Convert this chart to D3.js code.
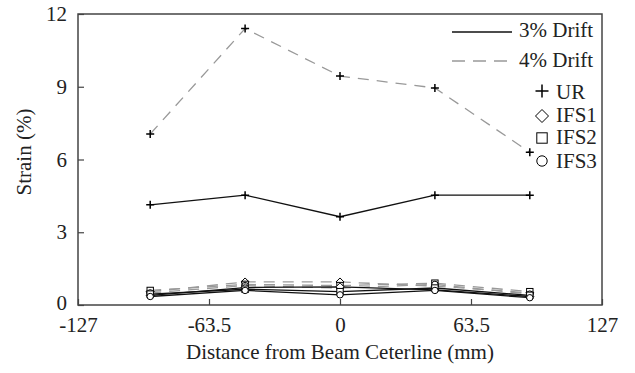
<!DOCTYPE html>
<html>
<head>
<meta charset="utf-8">
<script src="https://cdn.jsdelivr.net/npm/d3@7"></script>
</head>
<body style="margin:0">
<svg id="fig" width="635" height="373" font-family="Liberation Serif"></svg>
<script>
// Gauge positions across the beam (mm)
const positions = [-92, -46, 0, 46, 92];

// Strain (%) per specimen at each drift level
const ur3   = [4.13, 4.53, 3.64, 4.53, 4.53];
const ur4   = [7.05, 11.4, 9.44, 8.95, 6.3];
const ifs1_3 = [0.40, 0.72, 0.75, 0.62, 0.35];
const ifs1_4 = [0.55, 0.95, 0.95, 0.78, 0.50];
const ifs2_3 = [0.45, 0.65, 0.55, 0.70, 0.40];
const ifs2_4 = [0.60, 0.85, 0.80, 0.90, 0.55];
const ifs3_3 = [0.35, 0.60, 0.42, 0.60, 0.30];
const ifs3_4 = [0.50, 0.80, 0.70, 0.85, 0.45];

const xTicks = [-127, -63.5, 0, 63.5, 127];
const yTicks = [0, 3, 6, 9, 12];

const series = [
  { name: "UR",   drift: 4, values: ur4,    marker: "plus" },
  { name: "IFS1", drift: 4, values: ifs1_4, marker: "diamond" },
  { name: "IFS2", drift: 4, values: ifs2_4, marker: "square" },
  { name: "IFS3", drift: 4, values: ifs3_4, marker: "circle" },
  { name: "UR",   drift: 3, values: ur3,    marker: "plus" },
  { name: "IFS1", drift: 3, values: ifs1_3, marker: "diamond" },
  { name: "IFS2", drift: 3, values: ifs2_3, marker: "square" },
  { name: "IFS3", drift: 3, values: ifs3_3, marker: "circle" }
];

const serif = "Liberation Serif";
const ink = "#222";
const fs = 21;
const margin = { left: 78, right: 33, top: 14, bottom: 68 };
const W = 635, H = 373;
const svg = d3.select("#fig");
const x = d3.scaleLinear().domain([-127, 127]).range([margin.left, W - margin.right]);
const y = d3.scaleLinear().domain([0, 12]).range([H - margin.bottom, margin.top]);

const axisColor = "#444";

// Frame
svg.append("rect")
  .attr("x", x(-127)).attr("y", y(12))
  .attr("width", x(127) - x(-127)).attr("height", y(0) - y(12))
  .attr("fill", "none").attr("stroke", axisColor).attr("stroke-width", 1.5);

// Axes with inward ticks
const xAxis = svg.append("g").attr("transform", `translate(0,${y(0)})`)
  .call(d3.axisBottom(x).tickValues(xTicks).tickSize(-6).tickPadding(12)
    .tickFormat(d => String(d)));
const yAxis = svg.append("g").attr("transform", `translate(${x(-127)},0)`)
  .call(d3.axisLeft(y).tickValues(yTicks).tickSize(-6).tickPadding(11)
    .tickFormat(d => String(d)));
[xAxis, yAxis].forEach(g => {
  g.attr("font-family", serif).attr("font-size", fs);
  g.select(".domain").remove();
  g.selectAll(".tick line").attr("stroke", axisColor).attr("stroke-width", 1.2);
  g.selectAll(".tick text").attr("fill", ink);
});
// Lift the "0" label slightly so it clears the first x label
yAxis.selectAll(".tick text").filter(d => d === 0).attr("dy", "0.2em");

// Axis titles
svg.append("text")
  .attr("x", (x(-127) + x(127)) / 2).attr("y", 359)
  .attr("text-anchor", "middle")
  .attr("font-family", serif).attr("font-size", fs).attr("fill", ink)
  .text("Distance from Beam Ceterline (mm)");
svg.append("text")
  .attr("transform", `translate(31,152) rotate(-90)`)
  .attr("text-anchor", "middle")
  .attr("font-family", serif).attr("font-size", fs).attr("fill", ink)
  .text("Strain (%)");

const line = d3.line().x((d, i) => x(positions[i])).y(d => y(d));
const styleFor = drift => drift === 3
  ? { stroke: "#111", dash: null, width: 1.3 }
  : { stroke: "#999", dash: "11,8", width: 1.3 };

function drawMarker(g, type, cx, cy, s) {
  const h = s / 2;
  if (type === "plus") {
    g.append("path").attr("d", `M${cx - h},${cy}H${cx + h}M${cx},${cy - h}V${cy + h}`)
      .attr("stroke", "#000").attr("stroke-width", 1.5).attr("fill", "none");
  } else if (type === "diamond") {
    g.append("path").attr("d", `M${cx},${cy - h}L${cx + h},${cy}L${cx},${cy + h}L${cx - h},${cy}Z`)
      .attr("stroke", "#000").attr("stroke-width", 1).attr("fill", "#fff");
  } else if (type === "square") {
    g.append("rect").attr("x", cx - h * 0.8).attr("y", cy - h * 0.8)
      .attr("width", h * 1.6).attr("height", h * 1.6)
      .attr("stroke", "#000").attr("stroke-width", 1).attr("fill", "#fff");
  } else {
    g.append("circle").attr("cx", cx).attr("cy", cy).attr("r", h * 0.8)
      .attr("stroke", "#000").attr("stroke-width", 1).attr("fill", "#fff");
  }
}

const plot = svg.append("g");
series.forEach(s => {
  const st = styleFor(s.drift);
  plot.append("path").datum(s.values).attr("d", line)
    .attr("fill", "none").attr("stroke", st.stroke).attr("stroke-width", st.width)
    .attr("stroke-dasharray", st.dash);
});
series.forEach(s => {
  s.values.forEach((v, i) => drawMarker(plot, s.marker, x(positions[i]), y(v), 8));
});

// Legend
const lg = svg.append("g").attr("font-family", serif).attr("font-size", fs).attr("fill", ink);
[{ label: "3% Drift", drift: 3, yy: 32, base: 37 }, { label: "4% Drift", drift: 4, yy: 61, base: 67 }].forEach(d => {
  const st = styleFor(d.drift);
  lg.append("line").attr("x1", 452).attr("x2", 512).attr("y1", d.yy).attr("y2", d.yy)
    .attr("stroke", st.stroke).attr("stroke-width", st.width)
    .attr("stroke-dasharray", d.drift === 4 ? "13,8" : null);
  lg.append("text").attr("x", 519).attr("y", d.base).text(d.label);
});
[{ label: "UR", m: "plus", cy: 91, base: 99 }, { label: "IFS1", m: "diamond", cy: 116, base: 122 },
 { label: "IFS2", m: "square", cy: 138, base: 144 }, { label: "IFS3", m: "circle", cy: 161, base: 168 }].forEach(d => {
  const g = lg.append("g");
  drawMarker(g, d.m, 542, d.cy, 13);
  lg.append("text").attr("x", 556).attr("y", d.base).text(d.label);
});
</script>
</body>
</html>
